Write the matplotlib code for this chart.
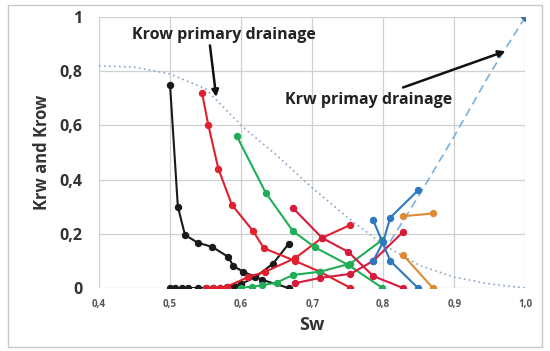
import matplotlib
matplotlib.use("Agg")
import matplotlib.pyplot as plt
from matplotlib.patches import Rectangle
from matplotlib.ticker import FuncFormatter

# primary drainage reference curves
krow_pd_sw = [0.40, 0.45, 0.50, 0.55, 0.60, 0.65, 0.70, 0.75, 0.80, 0.85, 0.90, 0.95, 1.00]
krow_pd = [0.82, 0.815, 0.79, 0.735, 0.60, 0.49, 0.37, 0.26, 0.16, 0.085, 0.04, 0.015, 0.0]
krw_pd_sw = [0.80, 0.85, 0.90, 0.95, 1.00]
krw_pd = [0.13, 0.34, 0.56, 0.79, 1.00]

# scanning curves: (colour, sw_krow, krow, sw_krw, krw)
black_sw_o = [0.50, 0.511, 0.521, 0.539, 0.559, 0.582, 0.589, 0.603, 0.63, 0.667]
black_o = [0.75, 0.30, 0.196, 0.167, 0.152, 0.115, 0.081, 0.06, 0.03, 0.0]
black_sw_w = [0.50, 0.507, 0.517, 0.525, 0.539, 0.55, 0.56, 0.57, 0.58, 0.59, 0.60, 0.62, 0.645, 0.667]
black_w = [0.0, 0.0, 0.0, 0.0, 0.0, 0.0, 0.0, 0.0, 0.003, 0.008, 0.015, 0.04, 0.09, 0.163]

red1_sw_o = [0.545, 0.554, 0.568, 0.587, 0.617, 0.632, 0.676, 0.711, 0.754]
red1_o = [0.72, 0.60, 0.44, 0.307, 0.21, 0.147, 0.10, 0.06, 0.0]
red1_sw_w = [0.55, 0.56, 0.57, 0.58, 0.61, 0.634, 0.676, 0.714, 0.754]
red1_w = [0.0, 0.0, 0.0, 0.005, 0.04, 0.06, 0.11, 0.185, 0.233]

green_sw_o = [0.594, 0.635, 0.673, 0.704, 0.751, 0.799]
green_o = [0.56, 0.35, 0.21, 0.15, 0.085, 0.0]
green_sw_w = [0.60, 0.615, 0.63, 0.65, 0.673, 0.711, 0.754, 0.799]
green_w = [0.0, 0.005, 0.01, 0.02, 0.048, 0.06, 0.09, 0.178]

red2_sw_o = [0.673, 0.714, 0.751, 0.786, 0.828]
red2_o = [0.295, 0.185, 0.133, 0.044, 0.0]
red2_sw_w = [0.676, 0.711, 0.754, 0.786, 0.828]
red2_w = [0.018, 0.037, 0.052, 0.10, 0.207]

blue_sw_o = [0.786, 0.81, 0.849]
blue_o = [0.25, 0.10, 0.0]
blue_sw_w = [0.786, 0.80, 0.81, 0.849]
blue_w = [0.10, 0.17, 0.26, 0.36]

orange_sw_o = [0.828, 0.87]
orange_o = [0.122, 0.0]
orange_sw_w = [0.828, 0.87]
orange_w = [0.265, 0.275]

curves = [
    ("#1a1a1a", black_sw_o, black_o, black_sw_w, black_w),
    ("#e0202e", red1_sw_o, red1_o, red1_sw_w, red1_w),
    ("#1fae55", green_sw_o, green_o, green_sw_w, green_w),
    ("#d81b3c", red2_sw_o, red2_o, red2_sw_w, red2_w),
    ("#2e78c0", blue_sw_o, blue_o, blue_sw_w, blue_w),
    ("#dd8a35", orange_sw_o, orange_o, orange_sw_w, orange_w),
]

plt.rcParams['font.family'] = ['Open Sans', 'DejaVu Sans']

fig = plt.figure(figsize=(5.5, 3.51), dpi=100)
ax = fig.add_axes([0.18, 0.1795, 0.775, 0.772])

ax.plot(krow_pd_sw, krow_pd, linestyle=(0, (1, 2)), color="#8aa6c8", lw=1.2, zorder=2)
ax.plot(krw_pd_sw, krw_pd, linestyle=(0, (5, 3)), color="#79b0dc", lw=1.2, zorder=2)
ax.plot([1.0], [1.0], marker="D", color="#3a6fb0", ms=4, zorder=3)

for color, sw_o, kro, sw_w, krw in curves:
    ax.plot(sw_o, kro, "-o", color=color, lw=1.5, ms=4.3, zorder=4)
    ax.plot(sw_w, krw, "-o", color=color, lw=1.5, ms=4.3, zorder=4)

ax.annotate("Krow primary drainage", xy=(0.565, 0.705), xytext=(0.447, 0.935),
            fontsize=11.5, fontweight="bold", color="#222222", va="center",
            arrowprops=dict(arrowstyle="-|>", color="#111111", lw=1.8,
                            shrinkA=0, shrinkB=0, mutation_scale=10,
                            relpos=(0.42, 0.0), connectionstyle="arc3,rad=0"))
ax.annotate("", xy=(0.972, 0.874), xytext=(0.828, 0.74),
            arrowprops=dict(arrowstyle="-|>", color="#111111", lw=1.8,
                            shrinkA=0, shrinkB=0, mutation_scale=10))
ax.text(0.662, 0.693, "Krw primay drainage", fontsize=11.5, fontweight="bold",
        color="#222222", va="center")

ax.set_xlim(0.4, 1.0)
ax.set_ylim(0, 1.0)
ax.set_xticks([0.4, 0.5, 0.6, 0.7, 0.8, 0.9, 1.0])
ax.set_yticks([0, 0.2, 0.4, 0.6, 0.8, 1.0])
ax.xaxis.set_major_formatter(FuncFormatter(lambda v, p: f"{v:.1f}".replace(".", ",")))
ax.yaxis.set_major_formatter(FuncFormatter(
    lambda v, p: "0" if v == 0 else ("1" if v == 1 else f"{v:.1f}".replace(".", ","))))
ax.tick_params(axis="x", length=0, pad=8, labelsize=7, labelcolor="#555555")
ax.tick_params(axis="y", length=0, pad=12, labelsize=11.5, labelcolor="#333333")
for lab in ax.get_xticklabels() + ax.get_yticklabels():
    lab.set_fontweight("bold")

ax.grid(True, color="#d0d0d0", lw=0.9)
ax.set_axisbelow(True)
for s in ax.spines.values():
    s.set_visible(False)

ax.set_xlabel("Sw", fontsize=13, fontweight="bold", color="#333333", labelpad=4)
ax.set_ylabel("Krw and Krow", fontsize=12, fontweight="bold", color="#333333", labelpad=6)

fig.patches.append(Rectangle((0.015, 0.01), 0.97, 0.975, transform=fig.transFigure,
                             fill=False, edgecolor="#c8c8c8", lw=1.0))

fig.savefig("out.png", dpi=100)
